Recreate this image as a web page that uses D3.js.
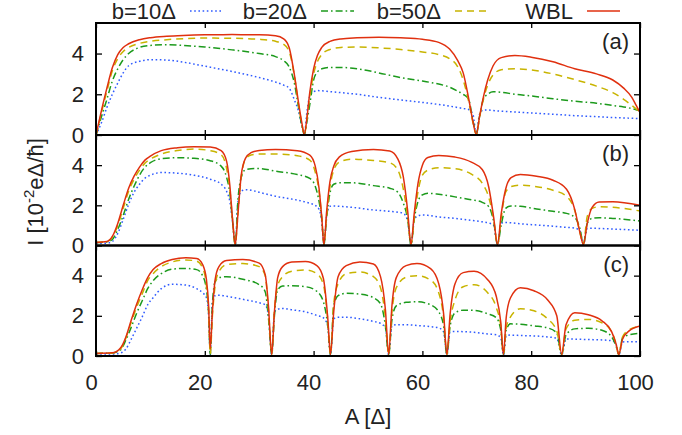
<!DOCTYPE html>
<html><head><meta charset="utf-8">
<script src="https://cdn.jsdelivr.net/npm/d3@7"></script>
<style>
body{margin:0;background:#fff}
text{font-family:"Liberation Sans",Arial,Helvetica,sans-serif;fill:#222}
</style>
</head><body><svg id="c" width="682" height="435"></svg>
<script>
// ---------- data ----------
const seriesLabels = ["b=10\u0394", "b=20\u0394", "b=50\u0394", "WBL"];
const panelLabels = ["(a)", "(b)", "(c)"];
const xTicks = [0, 20, 40, 60, 80, 100];
const yTicks = [0, 2, 4];

// panel (a)
const A_a = [0,1,2,3,4,5,6,8,10,13, 16,20,25,30,33,34.5,35.5,36.5,37.2,37.8, 38.3,38.8,39.3,40,40.7,41.5,43,45,48,52, 56,60,63,65,66.5,67.5,68.5,69.3,69.9,70.5, 71.2,72,73,74.5,77,80,84,88,92,95, 97,98.5,99.3,100];
const wbl_a = [0,1.2,2.3,3.3,3.95,4.3,4.48,4.68,4.78,4.85, 4.89,4.92,4.93,4.92,4.87,4.72,4.3,2.9,1.64,0.66, 0.03,0.9,2.1,3.25,3.9,4.3,4.6,4.72,4.77,4.8, 4.77,4.7,4.55,4.22,3.65,3.05,1.8,0.65,0.03,0.9, 1.85,2.7,3.4,3.8,3.9,3.82,3.6,3.25,3.0,2.7, 2.3,1.85,1.45,1.1];
const b50_a = [0,1.1,2.15,3.15,3.75,4.1,4.3,4.5,4.6,4.68, 4.73,4.76,4.75,4.7,4.6,4.45,4.1,2.85,1.55,0.6, 0.03,0.85,1.9,3.0,3.6,3.95,4.2,4.3,4.32,4.28, 4.2,4.08,3.95,3.75,3.35,2.7,1.65,0.6,0.03,0.85, 1.75,2.45,2.95,3.2,3.25,3.2,3.0,2.72,2.4,2.08, 1.75,1.45,1.28,1.12];
const b20_a = [0,0.9,1.75,2.65,3.25,3.7,4.0,4.3,4.4,4.43, 4.4,4.32,4.18,4.0,3.85,3.65,3.35,2.5,1.4,0.5, 0.03,0.7,1.5,2.7,3.1,3.25,3.32,3.32,3.25,3.05, 2.82,2.65,2.5,2.35,2.15,2.0,1.75,0.7,0.03,0.9, 1.75,2.0,2.12,2.1,2.0,1.92,1.78,1.66,1.56,1.45, 1.38,1.3,1.24,1.18];
const b10_a = [0,0.6,1.35,2.0,2.55,3.05,3.4,3.62,3.7,3.68, 3.58,3.38,3.12,2.82,2.6,2.45,2.3,1.7,1.2,0.5, 0.03,1.2,1.9,2.12,2.18,2.17,2.13,2.08,2.0,1.85, 1.72,1.6,1.5,1.42,1.35,1.3,1.25,1.0,0.05,1.0, 1.22,1.23,1.2,1.17,1.13,1.08,1.02,0.95,0.9,0.86, 0.84,0.82,0.81,0.8];

// panel (b)
const A_b = [0,2,3,4,5,6,7,8,9,10, 12,15,18,21,23,24,24.6,25.1,25.6,26.1, 26.7,27.5,28.5,30,33,37,39.3,40.3,41,41.5, 41.9,42.4,43,43.7,44.7,47,51,54,55.5,56.5, 57.3,57.9,58.5,59.2,60,61,63,66,69,71, 72.2,73.1,73.8,74.5,75.3,76.3,78,81,84,86.5, 88,89,89.6,90.3,91.2,92.5,95,100];
const wbl_b = [0.15,0.2,0.45,1.1,2.0,2.85,3.45,3.9,4.25,4.45, 4.72,4.87,4.92,4.9,4.72,4.2,3.0,1.3,0.05,1.6, 3.5,4.35,4.62,4.73,4.78,4.72,4.5,3.95,2.85,1.4, 0.05,1.7,3.17,3.95,4.4,4.68,4.78,4.7,4.3,3.4, 1.7,0.05,1.6,3.1,4.0,4.38,4.48,4.4,4.15,3.78, 2.9,1.4,0.05,1.6,2.8,3.38,3.54,3.45,3.25,2.8, 1.8,0.6,0.05,1.1,1.9,2.17,2.18,2.0];
const b50_b = [0.15,0.2,0.42,1.0,1.85,2.7,3.3,3.75,4.1,4.3, 4.55,4.73,4.8,4.72,4.52,3.84,2.8,1.3,0.05,1.6, 3.4,4.3,4.5,4.55,4.55,4.47,4.25,3.65,2.7,1.4, 0.05,1.5,2.9,3.75,4.15,4.3,4.23,4.12,3.75,2.8, 1.4,0.05,1.35,2.7,3.5,3.75,3.87,3.82,3.55,3.1, 2.4,1.3,0.05,1.4,2.65,2.93,3.0,2.93,2.75,2.45, 1.75,0.6,0.05,1.45,1.85,1.93,1.9,1.72];
const b20_b = [0.15,0.18,0.3,0.8,1.5,2.3,2.95,3.5,3.9,4.12, 4.32,4.37,4.34,4.22,3.95,3.4,2.6,1.2,0.05,2.3, 3.4,3.78,3.82,3.83,3.7,3.53,3.34,2.95,2.2,1.3, 0.05,1.4,2.6,3.05,3.12,3.12,2.98,2.85,2.65,2.1, 1.3,0.05,1.3,2.2,2.52,2.6,2.55,2.42,2.28,2.15, 1.93,1.2,0.05,1.05,1.85,1.97,1.95,1.82,1.7,1.6, 1.4,0.8,0.05,1.1,1.35,1.38,1.35,1.22];
const b10_b = [0.1,0.12,0.2,0.6,1.3,2.05,2.65,3.05,3.35,3.5, 3.63,3.6,3.5,3.3,3.05,2.7,2.2,1.2,0.05,2.2, 2.7,2.78,2.75,2.65,2.45,2.26,2.1,2.0,1.8,1.2, 0.05,1.5,1.95,1.97,1.95,1.9,1.77,1.7,1.66,1.6, 1.2,0.05,1.3,1.48,1.52,1.5,1.42,1.35,1.25,1.18, 1.12,1.0,0.05,1.12,1.15,1.13,1.08,1.02,0.96,0.9, 0.87,0.7,0.05,0.85,0.86,0.85,0.82,0.76];

// panel (c)
const A_c = [0,3,4.5,5.5,6.5,7.5,8.5,9.5,10.5,12, 14,16.5,18.5,19.6,20.3,20.7,21.0,21.4,21.9,22.6, 24,27,30,31.1,31.7,32.3,32.8,33.4,34.3,36, 38.5,40.6,41.8,42.6,43.1,43.7,44.5,46,48.5,51, 52.3,53.2,53.8,54.4,55.2,57,59,61.5,63,63.9, 64.5,65.1,66,67.5,69.5,72,73.6,74.4,74.9,75.4, 76.2,78,80.5,83,84.7,85.6,86.4,88,90.5,93, 94.8,95.6,96.1,96.8,98,100];
const wbl_c = [0.13,0.16,0.4,0.95,1.8,2.6,3.3,3.9,4.3,4.6, 4.8,4.89,4.85,4.55,3.8,2.5,0.35,2.2,3.8,4.45, 4.75,4.8,4.62,4.05,2.5,0.08,2.2,3.9,4.45,4.68, 4.7,4.5,3.86,1.9,0.08,2.2,3.95,4.5,4.68,4.58, 3.95,2.3,0.08,2.5,3.9,4.5,4.6,4.35,3.6,2.1, 0.08,2.1,3.6,4.15,4.22,3.8,2.95,1.7,0.08,1.9, 2.9,3.4,3.25,2.8,2.0,0.08,1.55,2.15,2.05,1.75, 1.2,0.6,0.08,0.85,1.25,1.5];
const b50_c = [0.13,0.15,0.35,0.9,1.7,2.45,3.1,3.75,4.1,4.45, 4.68,4.78,4.72,4.38,3.5,2.2,0.1,2.0,3.5,4.2, 4.55,4.6,4.45,4.0,2.3,0.08,2.3,3.5,3.95,4.22, 4.28,4.1,3.55,1.8,0.08,2.6,3.6,4.1,4.18,3.95, 3.4,1.9,0.08,2.2,3.4,3.92,4.0,3.78,3.15,1.9, 0.08,1.7,2.8,3.45,3.55,3.15,2.4,1.5,0.08,1.4, 1.95,2.35,2.25,1.85,1.25,0.08,1.35,1.78,1.82,1.65, 1.2,0.6,0.08,0.95,1.3,1.48];
const b20_c = [0.13,0.15,0.3,0.8,1.45,2.15,2.75,3.35,3.75,4.1, 4.32,4.36,4.3,4.0,3.3,2.2,0.08,2.6,3.7,3.9, 3.95,3.82,3.55,3.2,1.9,0.08,2.0,3.3,3.48,3.5, 3.45,3.22,2.7,1.5,0.08,2.5,3.0,3.12,3.08,2.9, 2.6,1.5,0.08,1.8,2.5,2.67,2.7,2.55,2.2,1.5, 0.08,1.5,2.15,2.28,2.27,2.1,1.9,1.3,0.08,1.3, 1.6,1.58,1.5,1.4,1.15,0.08,1.05,1.35,1.38,1.28, 0.95,0.5,0.08,0.9,1.05,1.13];
const b10_c = [0.1,0.1,0.15,0.35,0.85,1.4,1.95,2.55,2.9,3.35, 3.57,3.53,3.35,3.15,2.9,2.0,0.05,2.7,3.0,3.03, 2.97,2.82,2.65,2.55,2.0,0.05,2.2,2.33,2.37,2.3, 2.2,2.02,1.9,1.5,0.05,1.85,1.93,1.93,1.85,1.72, 1.62,1.4,0.05,1.5,1.56,1.56,1.52,1.46,1.4,1.2, 0.05,1.2,1.22,1.21,1.18,1.1,1.06,0.9,0.05,1.0, 1.04,1.02,1.0,0.95,0.88,0.05,0.85,0.84,0.82,0.8, 0.76,0.6,0.05,0.7,0.71,0.71];

// ---------- drawing ----------
const svg = d3.select("#c");
const FONT = 22;
const x = d3.scaleLinear().domain([0, 100]).range([96, 640]);
const styles = [
  {color: "#2f5bff", dash: "1.6,2.6"},
  {color: "#1c9a1c", dash: "7,3,1.6,3"},
  {color: "#c8b400", dash: "7,5"},
  {color: "#e0300f", dash: null}
];
const panels = [
  {top: 23,    bottom: 135,   A: A_a, s: [b10_a, b20_a, b50_a, wbl_a]},
  {top: 135,   bottom: 245.5, A: A_b, s: [b10_b, b20_b, b50_b, wbl_b]},
  {top: 245.5, bottom: 356,   A: A_c, s: [b10_c, b20_c, b50_c, wbl_c]}
];

panels.forEach((p, pi) => {
  const y = d3.scaleLinear().domain([0, 5.5]).range([p.bottom, p.top]);
  const cid = "clip" + pi;
  svg.append("clipPath").attr("id", cid).append("rect")
    .attr("x", x(0)).attr("y", p.top).attr("width", x(100) - x(0)).attr("height", p.bottom - p.top);
  const g = svg.append("g").attr("clip-path", `url(#${cid})`);
  p.s.forEach((vals, si) => {
    const line = d3.line().x((d, i) => x(p.A[i])).y(d => y(d)).curve(d3.curveMonotoneX);
    g.append("path").datum(vals).attr("d", line)
      .attr("fill", "none").attr("stroke", styles[si].color)
      .attr("stroke-width", 1.5)
      .attr("stroke-dasharray", styles[si].dash);
  });

  // left axis with labels
  const gl = svg.append("g").attr("transform", `translate(${x(0)},0)`)
    .call(d3.axisLeft(y).tickValues(yTicks).tickSizeInner(-6).tickSizeOuter(0).tickPadding(12).tickFormat(d3.format("d")));
  gl.select(".domain").remove();
  gl.selectAll("line").attr("stroke", "#000").attr("stroke-width", 1.3);
  gl.selectAll("text").attr("font-size", FONT).attr("font-family", '"Liberation Sans",Arial,sans-serif').attr("fill", "#222");
  // right axis
  const gr = svg.append("g").attr("transform", `translate(${x(100)},0)`)
    .call(d3.axisRight(y).tickValues(yTicks).tickSizeInner(-6).tickSizeOuter(0).tickFormat(""));
  gr.select(".domain").remove();
  gr.selectAll("line").attr("stroke", "#000").attr("stroke-width", 1.3);
  // bottom / top x ticks
  const gb = svg.append("g").attr("transform", `translate(0,${p.bottom})`)
    .call(d3.axisBottom(x).tickValues(xTicks).tickSizeInner(-5).tickSizeOuter(0).tickFormat(""));
  gb.select(".domain").remove();
  gb.selectAll("line").attr("stroke", "#000").attr("stroke-width", 1.3);
  const gt = svg.append("g").attr("transform", `translate(0,${p.top})`)
    .call(d3.axisTop(x).tickValues(xTicks).tickSizeInner(-5).tickSizeOuter(0).tickFormat(""));
  gt.select(".domain").remove();
  gt.selectAll("line").attr("stroke", "#000").attr("stroke-width", 1.3);

  // panel label
  svg.append("text").attr("x", 629).attr("y", p.top + 26)
    .attr("text-anchor", "end").attr("font-size", FONT).text(panelLabels[pi]);

  // frame
  svg.append("rect").attr("x", x(0)).attr("y", p.top)
    .attr("width", x(100) - x(0)).attr("height", p.bottom - p.top)
    .attr("fill", "none").attr("stroke", "#000").attr("stroke-width", 2);
});

// x tick labels (bottom panel only)
const last = panels[2];
const gx = svg.append("g").attr("transform", `translate(-5,${last.bottom})`)
  .call(d3.axisBottom(x).tickValues(xTicks).tickSize(0).tickPadding(18).tickFormat(d3.format("d")));
gx.select(".domain").remove();
gx.selectAll("text").attr("font-size", FONT).attr("font-family", '"Liberation Sans",Arial,sans-serif').attr("fill", "#222");

// axis titles
svg.append("text").attr("x", 368).attr("y", 424).attr("text-anchor", "middle")
  .attr("font-size", FONT).text("A [\u0394]");
const yt = svg.append("text").attr("transform", "translate(43,192) rotate(-90)")
  .attr("text-anchor", "middle").attr("font-size", FONT);
yt.append("tspan").text("I [10");
yt.append("tspan").attr("font-size", 15).attr("dy", -9).text("-2");
yt.append("tspan").attr("dy", 9).text("e\u0394/\u0127]");

// legend
const legX = [190, 321, 455, 587];
seriesLabels.forEach((lab, i) => {
  svg.append("text").attr("x", legX[i] - 14).attr("y", 19).attr("text-anchor", "end")
    .attr("font-size", FONT).text(lab);
  svg.append("line").attr("x1", legX[i]).attr("x2", legX[i] + 33).attr("y1", 11).attr("y2", 11)
    .attr("stroke", styles[i].color).attr("stroke-width", 1.5)
    .attr("stroke-dasharray", styles[i].dash);
});
</script>
</body></html>
